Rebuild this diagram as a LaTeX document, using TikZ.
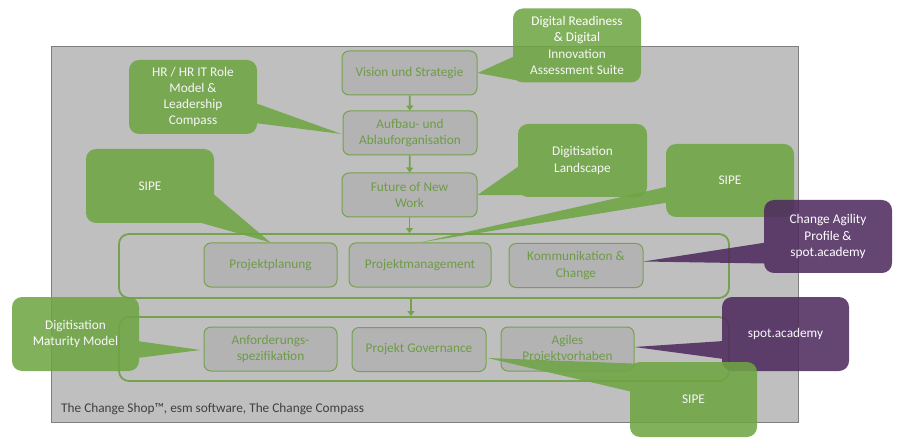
\documentclass[tikz,border=0pt]{standalone}
\usepackage{fontspec}
\setmainfont{Carlito}
\usetikzlibrary{calc,arrows.meta}
\definecolor{bggray}{HTML}{BFBFBF}
\definecolor{bgborder}{HTML}{7F7F7F}
\definecolor{procfill}{HTML}{B3B3B3}
\definecolor{procgreen}{HTML}{76A24E}
\definecolor{proctext}{HTML}{6E9B47}
\definecolor{callgreen}{HTML}{6FA544}
\definecolor{callpurple}{HTML}{4E2A5E}
\definecolor{footgray}{HTML}{404040}
\begin{document}
\begin{tikzpicture}[x=1pt,y=-1pt,
  font=\fontsize{13.3}{16.2}\selectfont,
  proc/.style={draw=procgreen, line width=1pt, fill=procfill, rounded corners=7pt,
    text=proctext, align=center, minimum height=44pt, inner sep=1pt},
  rowbox/.style={draw=procgreen, line width=1.8pt, rounded corners=10pt},
  callout/.style={rounded corners=10pt, text=white, align=center,
    minimum width=128pt, minimum height=74pt, inner sep=1pt},
  arr/.style={draw=procgreen, line width=1.8pt, -{Triangle[length=5pt,width=7pt]}},
  grp/.style={transparency group, opacity=0.87}]
\useasboundingbox (0,0) rectangle (899,446);
% background panel
\node[draw=bgborder, fill=bggray, line width=0.8pt, minimum width=747pt, minimum height=376pt, inner sep=0pt] (panel) at (424.5,234) {};
% row boxes
\node[rowbox, minimum width=610pt, minimum height=64pt] (row1) at (424,266) {};
\node[rowbox, minimum width=610pt, minimum height=64pt] (row2) at (424,349) {};
% process boxes
\node[proc, minimum width=135pt] (vision) at (409.5,73) {Vision und Strategie};
\node[proc, minimum width=134pt] (aufbau) at (410,133) {Aufbau- und\\Ablauforganisation};
\node[proc, minimum width=135pt] (future) at (409.5,195) {Future of New\\Work};
\node[proc, minimum width=133pt] (planung) at (270.5,265) {Projektplanung};
\node[proc, minimum width=142pt] (pm) at (420,265) {Projektmanagement};
\node[proc, minimum width=134pt] (komm) at (576,265.5) {Kommunikation \&\\Change};
\node[proc, minimum width=133pt] (anf) at (270.5,349) {Anforderungs-\\spezifikation};
\node[proc, minimum width=134pt] (gov) at (419,349.5) {Projekt Governance};
\node[proc, minimum width=133pt] (agil) at (567.5,349) {Agiles\\Projektvorhaben};
% arrows
\draw[arr] (vision) -- (aufbau);
\draw[arr] (aufbau) -- (future);
\draw[arr] (future) -- (future.south |- row1.north);
\draw[arr] ($(future.south |- row1.south)+(1.5,0)$) -- ($(future.south |- row2.north)+(1.5,0)$);
% footer
\node[anchor=west, text=footgray, inner sep=0pt] (foot) at (61,409) {The Change Shop™, esm software, The Change Compass};
% callouts
\begin{scope}[grp]
\node[callout, fill=callgreen] (dr) at (577,45.5) {Digital Readiness\\\& Digital\\Innovation\\Assessment Suite};
\fill[callgreen] ($(dr.west)+(1,11)$) -- (vision.east) -- ($(dr.south west)+(6,-2)$) -- cycle;
\end{scope}
\begin{scope}[grp]
\node[callout, fill=callgreen] (hr) at (193,97) {HR / HR IT Role\\Model \&\\Leadership\\Compass};
\fill[callgreen] ($(hr.east)+(-2,6)$) -- ($(aufbau.west)+(-1,1)$) -- ($(hr.east)+(-2,26)$) -- cycle;
\end{scope}
\begin{scope}[grp]
\node[callout, fill=callgreen] (sipea) at (150,186) {SIPE};
\fill[callgreen] ($(sipea.east)+(-2,7)$) -- (planung.north) -- ($(sipea.south east)+(-19,-2)$) -- cycle;
\end{scope}
\begin{scope}[grp]
\node[callout, fill=callgreen, minimum width=129pt, minimum height=73pt] (dl) at (582.5,160.5) {Digitisation\\Landscape};
\fill[callgreen] ($(dl.west)+(2,5)$) -- (future.east) -- ($(dl.south west)+(12,-2)$) -- cycle;
\end{scope}
\begin{scope}[grp]
\node[callout, fill=callgreen, minimum height=73pt] (sipeb) at (730,180.5) {SIPE};
\fill[callgreen] ($(sipeb.west)+(2,6)$) -- (pm.north) -- ($(sipeb.west)+(2,22)$) -- cycle;
\end{scope}
\begin{scope}[grp]
\node[callout, fill=callpurple, minimum height=73pt] (cap) at (828,236.5) {Change Agility\\Profile \&\\spot.academy};
\fill[callpurple] ($(cap.west)+(2,6)$) -- ($(komm.east)+(0,-4)$) -- ($(cap.west)+(2,27)$) -- cycle;
\end{scope}
\begin{scope}[grp]
\node[callout, fill=callpurple, minimum width=127pt] (spot) at (785.5,334) {spot.academy};
\fill[callpurple] ($(spot.west)+(2,7)$) -- ($(agil.east)+(0,-2)$) -- ($(spot.west)+(2,25)$) -- cycle;
\end{scope}
\begin{scope}[grp]
\node[callout, fill=callgreen, minimum width=127pt, minimum height=75pt] (sipec) at (693.5,399.5) {SIPE};
\fill[callgreen] ($(sipec.north west)+(10,2)$) -- ($(gov.east)+(1,8.5)$) -- ($(sipec.north west)+(2,30)$) -- cycle;
\end{scope}
\begin{scope}[grp]
\node[callout, fill=callgreen, minimum width=127pt] (dmm) at (75.5,334) {Digitisation\\Maturity Model};
\fill[callgreen] ($(dmm.east)+(-2,7)$) -- ($(anf.west)+(-3,1)$) -- ($(dmm.east)+(-2,24)$) -- cycle;
\end{scope}
\end{tikzpicture}
\end{document}
